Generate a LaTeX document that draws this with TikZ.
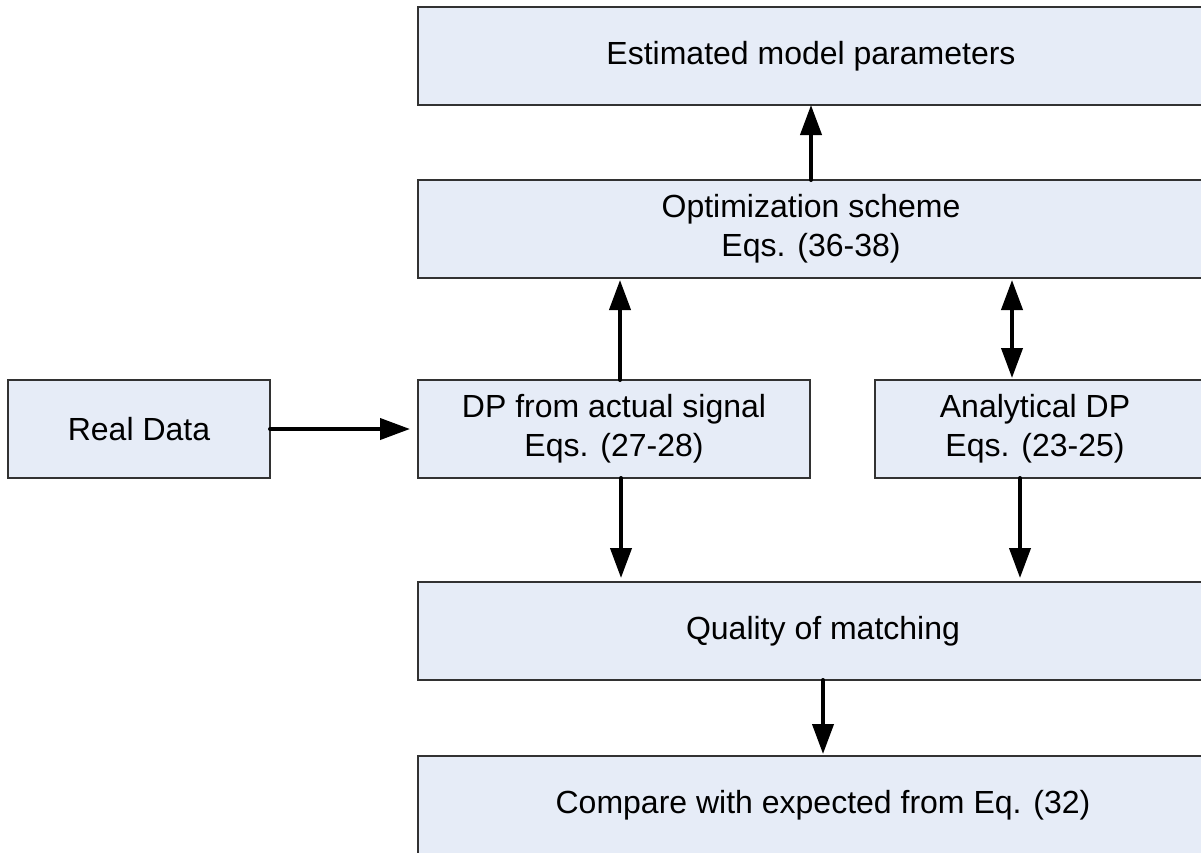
\documentclass[tikz,border=0pt]{standalone}
\usepackage{fontspec}
\setmainfont{Liberation Sans}
\usetikzlibrary{arrows.meta}
\definecolor{boxfill}{RGB}{230,236,247}
\definecolor{boxline}{RGB}{50,50,50}
\begin{document}
\begin{tikzpicture}[x=1pt,y=-1pt,
  box/.style={draw=boxline, line width=1.5pt, fill=boxfill, rectangle, inner sep=0pt, outer sep=0pt,
    minimum height=98pt, align=center, font=\fontsize{32}{39}\selectfont},
  lbl/.style={align=center, inner sep=0pt, font=\fontsize{32}{39}\selectfont},
  arr/.style={line width=4pt, line cap=round, -{Triangle[width=21pt,length=30pt]}},
  darr/.style={line width=4pt, {Triangle[width=21pt,length=30pt]}-{Triangle[width=21pt,length=30pt]}}]
\useasboundingbox (0,0) rectangle (1201,852);
\clip (0,0) rectangle (1201,852);

\node[box, minimum width=786pt] (top) at (811,56) {Estimated model parameters};
\node[box, minimum width=786pt] (opt) at (811,229) {Optimization scheme\\ Eqs. (36-38)};
\node[box, minimum width=262pt] (real) at (139,429) {Real Data};
\node[box, minimum width=392pt] (dp) at (614,429) {DP from actual signal\\ Eqs. (27-28)};
\node[box, minimum width=330pt] (ana) at (1040,429) {};
\node[lbl] (analbl) at (1035,429) {Analytical DP\\ Eqs. (23-25)};
\node[box, minimum width=810pt] (qual) at (823,631) {Quality of matching};
\node[box, minimum width=810pt] (cmp) at (823,805) {Compare with expected from Eq. (32)};

\coordinate (ca) at (1012,0);
\coordinate (cb) at (1020,0);

\draw[arr] (real.east) -- ([xshift=-8pt]dp.west);
\draw[arr, shorten >=2pt] ([xshift=6pt]dp.north) -- ([xshift=6pt]dp.north |- opt.south);
\draw[arr] (opt.north) -- (top.south);
\draw[darr, shorten <=2pt, shorten >=2pt] (ca |- opt.south) -- (ca |- ana.north);
\draw[arr, shorten >=4pt] ([xshift=7pt]dp.south) -- ([xshift=7pt]dp.south |- qual.north);
\draw[arr, shorten >=4pt] (cb |- ana.south) -- (cb |- qual.north);
\draw[arr, shorten >=2pt] (qual.south) -- (cmp.north);
\end{tikzpicture}
\end{document}
